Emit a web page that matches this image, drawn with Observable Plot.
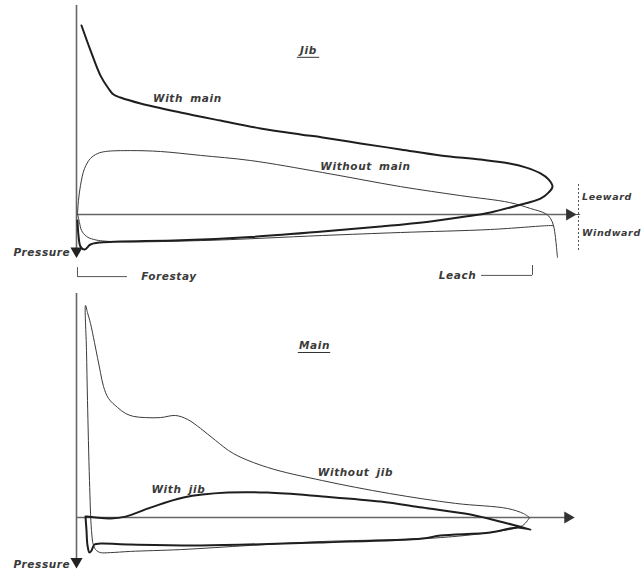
<!DOCTYPE html>
<html>
<head>
<meta charset="utf-8">
<script src="https://cdn.jsdelivr.net/npm/d3@7"></script>
<script src="https://cdn.jsdelivr.net/npm/@observablehq/plot@0.6"></script>
<style>
  html, body { margin: 0; padding: 0; background: #fff; }
  svg { display: block; }
  svg text { letter-spacing: 0.6px; word-spacing: 3px; }
</style>
</head>
<body>
<div id="chart"></div>
<script>
// x: % of chord from luff (leading edge); y: pressure (suction positive, leeward up)

// ---- Jib panel ----
const jibWithMainX = [1.05,2.94,5.04,6.72,7.77,9.24,13.45,21.85,30.25,38.66,47.06,51.68,59.66,68.07,76.47,84.87,90.97,94.33,97.48,99.16,100.0,
  99.16,97.48,92.65,86.97,81.72,74.37,63.87,51.68,36.55,21.85,9.24,5.04,2.94,1.68,0.84,0.42,0.21];
const jibWithMainY = [6.30,5.47,4.63,4.20,4.00,3.90,3.70,3.40,3.13,2.87,2.67,2.57,2.37,2.17,1.97,1.83,1.70,1.57,1.37,1.17,0.93,
  0.73,0.53,0.30,0.07,-0.07,-0.23,-0.40,-0.57,-0.75,-0.86,-0.90,-0.93,-1.00,-1.17,-1.07,-0.70,-0.20];

const jibWithoutMainUpperX = [0.21,0.42,0.84,1.68,2.94,4.41,6.09,11.34,17.65,26.05,36.55,51.68,68.07,80.67,90.97,95.38,98.53,99.58,100.21,100.63,100.84,101.05];
const jibWithoutMainUpperY = [0.03,0.47,0.97,1.53,1.87,2.03,2.10,2.13,2.10,1.97,1.80,1.40,0.93,0.63,0.40,0.20,0.03,-0.13,-0.37,-0.77,-1.10,-1.43];
const jibWithoutMainLowerX = [0.21,0.63,1.05,2.10,3.57,7.14,26.05,51.68,68.07,86.97,99.16,100.21];
const jibWithoutMainLowerY = [0.03,-0.27,-0.53,-0.73,-0.83,-0.90,-0.87,-0.70,-0.60,-0.50,-0.37,-0.37];

// ---- Main panel ----
const mainWithoutJibX = [95.17,93.70,86.76,76.47,68.07,51.68,36.55,21.85,11.34,7.14,5.04,4.20,3.57,3.15,2.73,2.31,2.10,1.89,
  2.31,2.94,3.78,4.41,5.04,5.67,6.72,8.61,10.29,11.97,14.50,17.65,20.80,23.32,26.05,29.20,32.98,40.13,51.68,65.76,79.62,90.55,93.91,95.17];
const mainWithoutJibY = [0.00,-0.27,-0.50,-0.67,-0.73,-0.80,-0.93,-1.07,-1.13,-1.17,-1.17,-1.10,-0.93,-0.43,1.23,3.90,5.57,7.07,
  6.83,6.47,5.83,5.33,4.83,4.37,3.97,3.67,3.47,3.37,3.33,3.33,3.40,3.27,2.97,2.57,2.13,1.67,1.23,0.80,0.47,0.30,0.13,0.00];

const mainWithJibX = [2.10,3.99,7.14,10.29,15.55,22.48,31.72,40.13,51.68,63.87,72.69,82.77,90.55,95.38,
  92.65,86.97,76.47,72.69,51.68,26.05,11.34,5.04,3.78,3.15,2.73,2.31,2.10,1.89];
const mainWithJibY = [0.03,0.00,-0.03,0.03,0.33,0.67,0.83,0.83,0.70,0.53,0.33,0.10,-0.20,-0.40,
  -0.33,-0.50,-0.60,-0.70,-0.83,-0.93,-0.90,-0.87,-0.90,-1.10,-1.17,-0.93,-0.43,0.03];

const jibLabels = ["Jib", "With main", "Without main", "Leeward", "Windward", "Pressure", "Forestay", "Leach"];
const mainLabels = ["Main", "Without jib", "With jib", "Pressure"];

const zip = (xs, ys) => xs.map((x, i) => ({x, y: ys[i]}));

const font = {fontFamily: "DejaVu Sans", fontStyle: "italic", fontWeight: "bold", fontSize: 10.5, fill: "#3a3a3a"};
const sideFont = {...font, fontSize: 9.5};
const thick = {stroke: "#1e1e1e", strokeWidth: 2, curve: "catmull-rom"};
const thin = {stroke: "#3a3a3a", strokeWidth: 1, curve: "catmull-rom"};
const axisStroke = {stroke: "#666", strokeWidth: 1.6};

const xScale = {domain: [0, 100], range: [76, 552], axis: null};

const jib = Plot.plot({
  width: 644, height: 285,
  margin: 0,
  x: xScale,
  y: {domain: [-71/30, 214/30], range: [285, 0], axis: null},
  marks: [
    Plot.ruleX([0], {y1: -1.37, y2: 6.97, ...axisStroke}),
    Plot.ruleY([0], {x1: 0.21, x2: 104, ...axisStroke}),
    Plot.dot([{x: 103.6, y: 0}], {x: "x", y: "y", symbol: "triangle", rotate: 90, r: 4.5, fill: "#333", stroke: null}),
    Plot.dot([{x: 0, y: -1.22}], {x: "x", y: "y", symbol: "triangle", rotate: 180, r: 4.5, fill: "#222", stroke: null}),
    // leeward / windward bracket
    Plot.ruleX([105.46], {y1: -1.2, y2: 1.07, stroke: "#555", strokeWidth: 1, strokeDasharray: "2,2"}),
    Plot.ruleY([0], {x1: 105.0, x2: 105.9, stroke: "#555", strokeWidth: 1}),
    // forestay / leach brackets
    Plot.ruleX([0.21], {y1: -1.77, y2: -2.07, stroke: "#555", strokeWidth: 1}),
    Plot.ruleY([-2.07], {x1: 0.21, x2: 10.7, stroke: "#555", strokeWidth: 1}),
    Plot.ruleX([95.8], {y1: -1.7, y2: -2.03, stroke: "#555", strokeWidth: 1}),
    Plot.ruleY([-2.03], {x1: 85.1, x2: 95.8, stroke: "#555", strokeWidth: 1}),
    // curves
    Plot.line(zip(jibWithoutMainUpperX, jibWithoutMainUpperY), {x: "x", y: "y", ...thin}),
    Plot.line(zip(jibWithoutMainLowerX, jibWithoutMainLowerY), {x: "x", y: "y", ...thin}),
    Plot.line(zip(jibWithMainX, jibWithMainY), {x: "x", y: "y", ...thick}),
    // labels
    Plot.text([jibLabels[0]], {x: 48.74, y: 5.47, text: d => d, ...font}),
    Plot.ruleY([5.24], {x1: 46.4, x2: 51.1, stroke: "#333", strokeWidth: 1}),
    Plot.text([jibLabels[1]], {x: 23.3, y: 3.87, text: d => d, ...font}),
    Plot.text([jibLabels[2]], {x: 60.7, y: 1.6, text: d => d, ...font}),
    Plot.text([jibLabels[3]], {x: 106.2, y: 0.57, text: d => d, textAnchor: "start", ...sideFont}),
    Plot.text([jibLabels[4]], {x: 106.2, y: -0.6, text: d => d, textAnchor: "start", ...sideFont}),
    Plot.text([jibLabels[5]], {x: -1.3, y: -1.27, text: d => d, textAnchor: "end", ...font}),
    Plot.text([jibLabels[6]], {x: 13.6, y: -2.07, text: d => d, textAnchor: "start", ...font}),
    Plot.text([jibLabels[7]], {x: 84.0, y: -2.03, text: d => d, textAnchor: "end", ...font})
  ]
});

const main = Plot.plot({
  width: 644, height: 284,
  margin: 0,
  x: xScale,
  y: {domain: [-52/30, 232/30], range: [284, 0], axis: null},
  marks: [
    Plot.ruleX([0], {y1: -1.63, y2: 7.47, ...axisStroke}),
    Plot.ruleY([0], {x1: 0, x2: 103.5, ...axisStroke}),
    Plot.dot([{x: 103.2, y: 0}], {x: "x", y: "y", symbol: "triangle", rotate: 90, r: 4.5, fill: "#333", stroke: null}),
    Plot.dot([{x: 0, y: -1.47}], {x: "x", y: "y", symbol: "triangle", rotate: 180, r: 4.5, fill: "#222", stroke: null}),
    Plot.line(zip(mainWithoutJibX, mainWithoutJibY), {x: "x", y: "y", ...thin}),
    Plot.line(zip(mainWithJibX, mainWithJibY), {x: "x", y: "y", ...thick}),
    Plot.text([mainLabels[0]], {x: 50.0, y: 5.73, text: d => d, ...font}),
    Plot.ruleY([5.5], {x1: 46.6, x2: 53.4, stroke: "#333", strokeWidth: 1}),
    Plot.text([mainLabels[1]], {x: 58.6, y: 1.5, text: d => d, ...font}),
    Plot.text([mainLabels[2]], {x: 21.4, y: 0.93, text: d => d, ...font}),
    Plot.text([mainLabels[3]], {x: -1.3, y: -1.57, text: d => d, textAnchor: "end", ...font})
  ]
});

document.getElementById("chart").append(jib, main);
</script>
</body>
</html>
